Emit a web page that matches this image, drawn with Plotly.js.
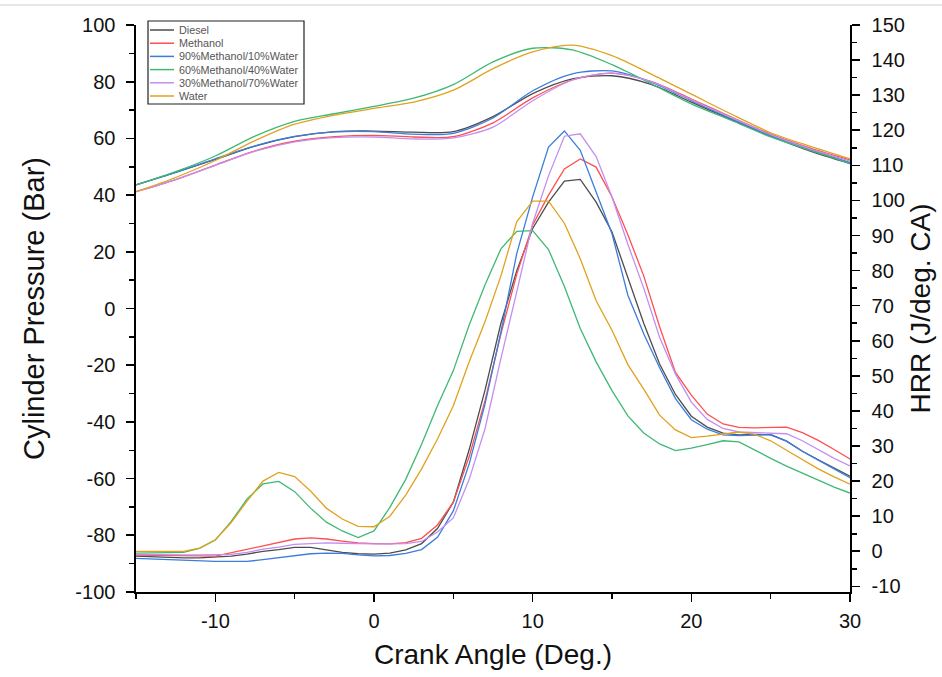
<!DOCTYPE html>
<html>
<head>
<meta charset="utf-8">
<script src="https://cdn.plot.ly/plotly-3.0.1.min.js"></script>
<style>html,body{margin:0;padding:0;background:#fff;}#chart{width:942px;height:677px;}</style>
</head>
<body>
<div id="chart"></div>
<script>
// Series names
const seriesNames = ["Diesel", "Methanol", "90%Methanol/10%Water", "60%Methanol/40%Water", "30%Methanol/70%Water", "Water"];

// Tick values and labels
const xTickVals = [-10, 0, 10, 20, 30];
const xTickText = ["-10", "0", "10", "20", "30"];
const pTickVals = [-100, -80, -60, -40, -20, 0, 20, 40, 60, 80, 100];
const pTickText = ["-100", "-80", "-60", "-40", "-20", "0", "20", "40", "60", "80", "100"];
const hTickVals = [-10, 0, 10, 20, 30, 40, 50, 60, 70, 80, 90, 100, 110, 120, 130, 140, 150];
const hTickText = ["-10", "0", "10", "20", "30", "40", "50", "60", "70", "80", "90", "100", "110", "120", "130", "140", "150"];

// Crank angle for cylinder pressure (deg)
const caPressure = [-15, -12.5, -10, -7.5, -5, -2.5, 0, 2.5, 5, 7.5, 10, 12.5, 15, 17.5, 20, 22.5, 25, 27.5, 30];
// Cylinder pressure (Bar)
const pDiesel  = [43.6, 48.0, 52.6, 57.3, 60.6, 62.4, 62.6, 62.2, 62.4, 67.7, 75.8, 81.0, 82.1, 79.0, 72.8, 66.7, 60.8, 55.5, 51.1];
const pMethanol= [41.2, 45.5, 50.6, 55.6, 59.0, 60.6, 61.1, 60.5, 60.6, 65.5, 74.3, 80.6, 83.0, 80.0, 73.9, 67.6, 61.5, 56.6, 52.4];
const pM90W10  = [43.6, 48.0, 52.8, 57.4, 60.7, 62.3, 62.4, 61.5, 61.8, 67.2, 76.8, 82.8, 83.8, 79.8, 73.3, 67.0, 61.0, 56.0, 51.5];
const pM60W40  = [43.6, 48.3, 53.8, 60.8, 66.0, 68.7, 71.3, 74.2, 79.0, 87.0, 91.8, 91.2, 86.0, 79.2, 72.2, 66.4, 60.5, 55.8, 51.2];
const pM30W70  = [41.2, 45.5, 50.5, 55.5, 58.8, 60.3, 60.5, 59.8, 60.2, 64.0, 73.3, 80.6, 83.0, 79.9, 73.6, 67.4, 61.3, 56.3, 52.0];
const pWater   = [41.2, 46.2, 52.2, 59.2, 65.0, 68.2, 70.6, 72.8, 77.0, 84.6, 90.5, 92.9, 89.2, 82.6, 75.6, 68.6, 62.0, 57.2, 52.8];

// Crank angle for heat release rate (deg)
const caHRR = [-15,-14,-13,-12,-11,-10,-9,-8,-7,-6,-5,-4,-3,-2,-1,0,1,2,3,4,5,6,7,8,9,10,11,12,13,14,15,16,17,18,19,20,21,22,23,24,25,26,27,28,29,30];
// Heat release rate (J/deg. CA)
const hDiesel  = [-1.4,-1.6,-1.8,-1.9,-1.9,-1.7,-1.4,-0.8,0,0.5,1.1,1.1,0.3,-0.3,-0.7,-0.8,-0.5,0.4,2.2,6.5,14,29,46,65,80,92,99.5,105.5,106,99.5,91,78,65,53.4,44.7,38.5,35.4,33.7,33.2,33.3,33.2,31.4,28.5,26.1,23.8,21.4];
const hMethanol= [-1.1,-1.1,-1.1,-1.2,-1.3,-1.4,-0.4,0.6,1.7,2.6,3.5,3.8,3.5,2.9,2.4,2.2,2.1,2.5,3.7,7.5,14,27,43,62,79,93,101.5,109,111.8,109.5,101,90.2,78.5,64,51,44.5,39.1,36.3,35.3,35.2,35.3,35.4,33.8,31.6,29,26.3];
const hM90W10  = [-2,-2.2,-2.4,-2.6,-2.8,-2.9,-2.9,-2.9,-2.4,-1.8,-1.3,-0.7,-0.5,-0.6,-1.0,-1.3,-1.2,-0.6,0.5,4,11.5,24.9,42,62.5,84.9,101,115.2,119.8,114.3,102.5,90.5,73,62,52.3,43.5,37.5,34.8,33.2,33,33.1,33.3,31.4,28.5,26,23.5,21];
const hM60W40  = [-0.5,-0.5,-0.5,-0.3,0.8,3.2,8.5,14.9,19.2,19.9,17,12.3,8.3,5.8,3.9,5.8,12.5,20.5,30.5,41.5,51.5,64.5,76,86.2,91.2,91.4,86,75.5,63.5,54,45.8,38.6,33.7,30.6,28.7,29.4,30.4,31.5,31.2,28.8,26.5,24.3,22.2,20.3,18.3,16.6];
const hM30W70  = [-0.9,-1,-1,-1,-1,-1,-0.9,-0.3,0.6,1.2,2,2.2,2.4,2.3,2.1,2.1,2.1,2.2,2.8,5.5,9.5,20.5,35,55,74,93.5,107,118.3,119,112.5,101,87.5,75,61,50.5,42.5,37.6,35,34,33.8,33.8,33.5,31.5,29,26.5,24.3];
const hWater   = [0,0,0,0,0.9,3.3,8.2,14.3,20,22.5,21.3,17.2,12.3,9.2,7.1,7.0,10,16,23.5,32,41.5,54,65.5,78.5,94,99.8,99.8,93.5,83.4,71.4,63,53.2,46.2,38.8,34.6,32.4,32.8,33.3,34,33.3,31.5,28.8,26.2,23.5,21.2,19.1];

const colors = ["#4d4d4d", "#ff4f4f", "#3b7ddd", "#3fb874", "#c38ef2", "#e0a21e"];

const pSeries = [pDiesel, pMethanol, pM90W10, pM60W40, pM30W70, pWater];
const hSeries = [hDiesel, hMethanol, hM90W10, hM60W40, hM30W70, hWater];

const traces = [];
seriesNames.forEach((name, i) => {
  traces.push({
    x: caPressure, y: pSeries[i], type: 'scatter', mode: 'lines', name: name,
    line: {color: colors[i], width: 1.3, shape: 'spline', smoothing: 0.8},
    yaxis: 'y', showlegend: false
  });
});
seriesNames.forEach((name, i) => {
  traces.push({
    x: caHRR, y: hSeries[i], type: 'scatter', mode: 'lines', name: name,
    line: {color: colors[i], width: 1.3},
    yaxis: 'y2', showlegend: false
  });
});

const fontFam = "Liberation Sans, Arial, sans-serif";
const axisCommon = {
  showline: true, linecolor: '#000', linewidth: 1.6,
  ticks: 'outside', ticklen: 8, tickwidth: 1.6, tickcolor: '#000',
  showgrid: false, zeroline: false, tickmode: 'array',
  tickfont: {family: fontFam, size: 20, color: '#111'}
};
const minorTicks = (d) => ({dtick: d, tick0: 0, ticks: 'outside', ticklen: 5, tickwidth: 1.5, tickcolor: '#000'});

// Plot-area geometry (px) used to place the hand-built legend box
const plotLeft = 136, plotRight = 850, plotTop = 25, plotBottom = 592;
const px2x = (px) => (px - plotLeft) / (plotRight - plotLeft);
const py2y = (py) => (plotBottom - py) / (plotBottom - plotTop);

const shapes = [{
  type: 'line', xref: 'paper', yref: 'paper',
  x0: px2x(0), x1: px2x(942), y0: py2y(5), y1: py2y(5),
  line: {color: '#d0d0d0', width: 1}
}, {
  type: 'rect', xref: 'paper', yref: 'paper',
  x0: px2x(148), x1: px2x(304), y0: py2y(104), y1: py2y(21),
  line: {color: '#222', width: 1.2}, fillcolor: 'rgba(255,255,255,1)'
}];
const annotations = [];
seriesNames.forEach((name, i) => {
  const cy = 30 + i * 13.2;
  shapes.push({
    type: 'line', xref: 'paper', yref: 'paper',
    x0: px2x(150), x1: px2x(174), y0: py2y(cy), y1: py2y(cy),
    line: {color: colors[i], width: 1.5}
  });
  annotations.push({
    xref: 'paper', yref: 'paper', x: px2x(177), y: py2y(cy),
    xanchor: 'left', yanchor: 'middle', showarrow: false, text: name,
    font: {family: fontFam, size: 10.8, color: '#555'}
  });
});

const layout = {
  width: 942, height: 677,
  margin: {l: 136, r: 92, t: 25, b: 85},
  paper_bgcolor: '#fff', plot_bgcolor: '#fff',
  showlegend: false,
  xaxis: Object.assign({}, axisCommon, {
    range: [-15, 30], tickvals: xTickVals, ticktext: xTickText,
    minor: minorTicks(5), ticklabelstandoff: 2,
    title: {text: 'Crank Angle (Deg.)', font: {family: fontFam, size: 28, color: '#111'}, standoff: 14}
  }),
  yaxis: Object.assign({}, axisCommon, {
    range: [-100, 100], tickvals: pTickVals, ticktext: pTickText,
    minor: minorTicks(10), ticklabelstandoff: 7,
    title: {text: 'Cylinder Pressure (Bar)', font: {family: fontFam, size: 29, color: '#111'}, standoff: 22}
  }),
  yaxis2: Object.assign({}, axisCommon, {
    overlaying: 'y', side: 'right',
    range: [-11.6, 150], tickvals: hTickVals, ticktext: hTickText,
    minor: minorTicks(5), ticklabelstandoff: 8,
    title: {text: 'HRR (J/deg. CA)', font: {family: fontFam, size: 28, color: '#111'}, standoff: 2}
  }),
  shapes: shapes,
  annotations: annotations
};

Plotly.newPlot('chart', traces, layout, {displayModeBar: false, staticPlot: true});
</script>
</body>
</html>
